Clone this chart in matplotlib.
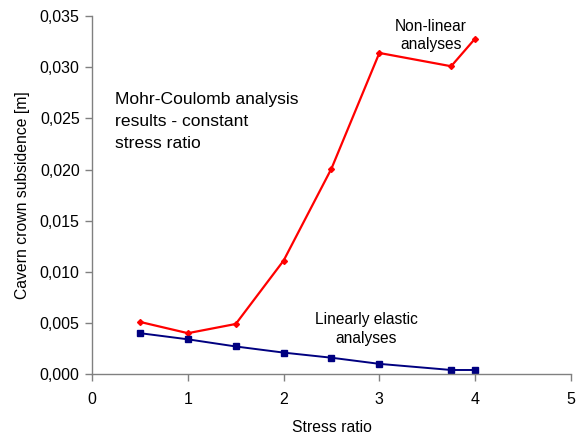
import matplotlib
matplotlib.use("Agg")
import matplotlib.pyplot as plt
from matplotlib.ticker import FuncFormatter

plt.rcParams['font.family'] = ['Liberation Sans', 'DejaVu Sans']

# Stress ratio values and crown subsidence results
ratio_nonlinear = [0.5, 1.0, 1.5, 2.0, 2.5, 3.0, 3.75, 4.0]
subs_nonlinear = [0.0051, 0.0040, 0.0049, 0.0111, 0.0201, 0.0314, 0.0301, 0.0328]

ratio_linear = [0.5, 1.0, 1.5, 2.0, 2.5, 3.0, 3.75, 4.0]
subs_linear = [0.0040, 0.0034, 0.0027, 0.0021, 0.0016, 0.0010, 0.0004, 0.0004]

x_ticks = [0, 1, 2, 3, 4, 5]
y_ticks = [0.000, 0.005, 0.010, 0.015, 0.020, 0.025, 0.030, 0.035]

fig = plt.figure(figsize=(5.76, 4.36), dpi=100)
ax = fig.add_axes([0.16, 0.142, 0.831, 0.821])

ax.plot(ratio_nonlinear, subs_nonlinear, color='#FF0000', lw=1.6,
        marker='D', ms=3, mfc='#FF0000', mec='#FF0000')
ax.plot(ratio_linear, subs_linear, color='#000080', lw=1.4,
        marker='s', ms=4, mfc='#000080', mec='#000080')

ax.set_xlim(0, 5)
ax.set_ylim(0, 0.035)
ax.set_xticks(x_ticks)
ax.set_yticks(y_ticks)
ax.yaxis.set_major_formatter(FuncFormatter(lambda v, p: f"{v:.3f}".replace('.', ',')))

for s in ['top', 'right']:
    ax.spines[s].set_visible(False)
for s in ['left', 'bottom']:
    ax.spines[s].set_color('#808080')
    ax.spines[s].set_linewidth(1.0)
ax.tick_params(direction='out', length=5, width=1, color='#808080',
               labelsize=11.5, labelcolor='black', pad=4)
ax.tick_params(axis='x', pad=8)

ax.set_xlabel('Stress ratio', fontsize=11.3, labelpad=9)
ax.set_ylabel('Cavern crown subsidence [m]', fontsize=11.3, labelpad=7)

ax.text(0.24, 0.0276, 'Mohr-Coulomb analysis\nresults - constant\nstress ratio',
        fontsize=12.6, ha='left', va='top', linespacing=1.6)
ax.text(3.54, 0.0331, 'Non-linear\nanalyses', fontsize=11.2,
        ha='center', va='center', linespacing=1.3)
ax.text(2.86, 0.0044, 'Linearly elastic\nanalyses', fontsize=11.2,
        ha='center', va='center', linespacing=1.3)

fig.savefig('out.png', dpi=100)
